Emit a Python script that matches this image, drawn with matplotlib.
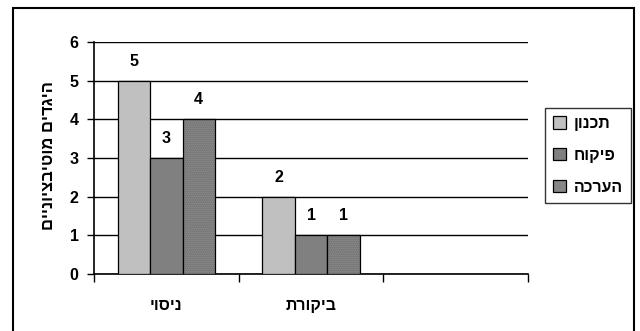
import matplotlib.pyplot as plt
from matplotlib.patches import Rectangle, Patch

plt.rcParams['font.family'] = ['Liberation Sans', 'DejaVu Sans']
plt.rcParams['font.weight'] = 'bold'
plt.rcParams['hatch.linewidth'] = 1.0


def rtl(s):
    # matplotlib has no bidi support, so Hebrew is laid out reversed
    return s[::-1]


groups = ['ניסוי', 'ביקורת', '']
series = ['תכנון', 'פיקוח', 'הערכה']
planning = [5, 2]
monitoring = [3, 1]
evaluation = [4, 1]
y_ticks = [0, 1, 2, 3, 4, 5, 6]
y_label = 'היגדים מוטיבציוניים'

colors = ['#c0c0c0', '#808080', '#939393']
fs = 11.5

fig = plt.figure(figsize=(6.4, 3.31), dpi=100)
ax = fig.add_axes([94 / 640, 57 / 331, 434 / 640, 232 / 331])

width = 0.224
values = [planning, monitoring, evaluation]
handles = []
for i, (name, vals) in enumerate(zip(series, values)):
    xs = [g + (i - 1) * width for g in range(len(vals))]
    if i == 2:
        # stippled fill for the third series, outline drawn on top
        ax.bar(xs, vals, width, color=colors[i], edgecolor='#666666',
               hatch='........', linewidth=0, zorder=3)
        bars = ax.bar(xs, vals, width, facecolor='none', edgecolor='black',
                      linewidth=0.9, zorder=4)
        handles.append(Patch(facecolor='#878787', edgecolor='black',
                             linewidth=0.9, label=rtl(name)))
    else:
        bars = ax.bar(xs, vals, width, color=colors[i], edgecolor='black',
                      linewidth=0.9, zorder=3, label=rtl(name))
        handles.append(bars)
    for b, v in zip(bars, vals):
        ax.annotate(str(v), (b.get_x() + b.get_width() / 2, v),
                    xytext=(0, 14), textcoords='offset points',
                    ha='center', va='center', fontsize=fs, fontweight='bold')

ax.set_xlim(-0.5, 2.5)
ax.set_ylim(0, 6)
ax.set_yticks(y_ticks)
ax.set_yticklabels([str(t) for t in y_ticks], fontweight='bold')
ax.grid(axis='y', color='black', linewidth=1, zorder=0)
ax.set_axisbelow(True)

ax.set_xticks([-0.5, 0.5, 1.5, 2.5])
ax.set_xticklabels([])
ax.set_xticks([0, 1, 2], minor=True)
ax.set_xticklabels([rtl(g) for g in groups], minor=True, fontweight='bold')
ax.tick_params(axis='x', which='major', length=6, width=1, direction='out')
ax.tick_params(axis='x', which='minor', length=0, pad=17, labelsize=fs)
ax.tick_params(axis='y', length=5, width=1, direction='out', pad=6, labelsize=fs)

for s in ['top', 'right']:
    ax.spines[s].set_visible(False)
for s in ['left', 'bottom']:
    ax.spines[s].set_linewidth(1.2)

fig.text(49 / 640, 1 - 155 / 331, rtl(y_label), rotation=90, ha='center',
         va='center', fontsize=12, fontweight='bold')

leg = fig.legend(handles=handles, loc='upper left',
                 bbox_to_anchor=(545 / 640, 1 - 108 / 331),
                 prop={'size': fs, 'weight': 'bold'}, frameon=True,
                 fancybox=False, handlelength=0.8, handleheight=0.8,
                 handletextpad=0.5, labelspacing=1.05, borderpad=0.5,
                 borderaxespad=0)
leg.get_frame().set_edgecolor('black')
leg.get_frame().set_linewidth(1)

# outer chart border
fig.patches.append(Rectangle((13 / 640, -0.02), 621 / 640, 1.02 - 8 / 331,
                             transform=fig.transFigure, fill=False,
                             edgecolor='black', linewidth=1.5))

fig.savefig('out.png', dpi=100)
